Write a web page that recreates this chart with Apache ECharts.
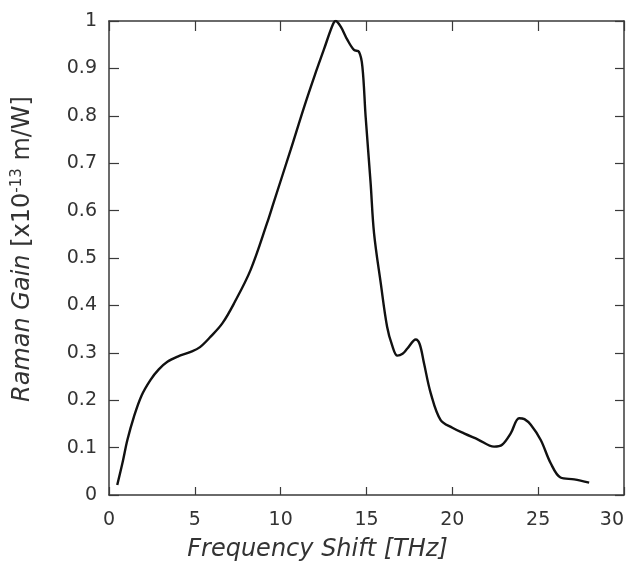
<!DOCTYPE html>
<html>
<head>
<meta charset="utf-8">
<script src="https://cdn.jsdelivr.net/npm/echarts@6/dist/echarts.min.js"></script>
<style>
  html, body { margin: 0; padding: 0; background: #fff; }
  #chart { width: 626px; height: 565px; }
</style>
</head>
<body>
<div id="chart"></div>
<script>
// frequency shift (THz) and Raman gain (x1e-13 m/W)
const shift = [0.48, 0.8, 1.07, 1.45, 1.9, 2.42, 2.9, 3.4, 4.0, 4.76, 5.3, 5.92, 6.6, 7.28,
  8.25, 9.22, 9.6, 10.58, 11.36, 12.0, 12.52, 13.01, 13.2, 13.5, 13.89, 14.27, 14.56, 14.76,
  14.95, 15.24, 15.44, 15.83, 16.2, 16.5, 16.8, 17.1, 17.38, 17.87, 18.1, 18.35, 18.74, 19.32,
  20.0, 20.68, 21.5, 22.43, 22.9, 23.4, 23.89, 24.2, 24.57, 25.15, 25.73, 26.3, 27.1, 27.97];
const gain = [0.021, 0.07, 0.116, 0.165, 0.21, 0.243, 0.265, 0.281, 0.292, 0.302, 0.312, 0.334,
  0.362, 0.404, 0.475, 0.575, 0.618, 0.728, 0.818, 0.887, 0.94, 0.99, 1.0, 0.988, 0.96, 0.939,
  0.935, 0.904, 0.798, 0.658, 0.552, 0.447, 0.355, 0.315, 0.294, 0.298, 0.309, 0.328, 0.318,
  0.278, 0.215, 0.158, 0.142, 0.130, 0.117, 0.102, 0.106, 0.13, 0.162, 0.16, 0.148, 0.116,
  0.067, 0.037, 0.033, 0.026];
const xTicks = [0, 5, 10, 15, 20, 25, 30];
const yTicks = [0, 0.1, 0.2, 0.3, 0.4, 0.5, 0.6, 0.7, 0.8, 0.9, 1];

const font = 'DejaVu Sans';
const axisColor = '#3a3a3a';
const textColor = '#333';

let points = shift.map((x, i) => [x, gain[i]]);

function fmtY(v) {
  let r = Math.round(v * 10) / 10;
  return yTicks.indexOf(r) >= 0 ? String(r) : '';
}

function frameAxis(pos, tickLen) {
  return {
    type: 'value', position: pos,
    axisLine: { show: true, onZero: false, lineStyle: { color: axisColor, width: 1.5 } },
    axisTick: { show: true, inside: true, length: tickLen, lineStyle: { color: axisColor, width: 1.2 } },
    axisLabel: { show: false },
    splitLine: { show: false }
  };
}

let xTop = frameAxis('top', 10);
xTop.min = xTicks[0]; xTop.max = xTicks[xTicks.length - 1]; xTop.interval = 5;
let yRight = frameAxis('right', 9);
yRight.min = 0; yRight.max = 1; yRight.interval = 0.1;

let option = {
  animation: false,
  backgroundColor: '#fff',
  grid: { left: 109, right: 2, top: 21, bottom: 70, outerBoundsMode: 'none' },
  xAxis: [
    {
      type: 'value', position: 'bottom', min: xTicks[0], max: xTicks[xTicks.length - 1], interval: 5,
      name: 'Frequency Shift [THz]', nameLocation: 'middle', nameGap: 43,
      nameTextStyle: { fontFamily: font, fontStyle: 'italic', fontSize: 24, color: textColor, padding: [0, 98, 0, 0] },
      axisLine: { show: true, onZero: false, lineStyle: { color: axisColor, width: 1.5 } },
      axisTick: { show: true, inside: true, length: 8, lineStyle: { color: axisColor, width: 1.2 } },
      axisLabel: { fontFamily: font, fontSize: 19, color: textColor, margin: 16, alignMaxLabel: 'right' },
      splitLine: { show: false }
    },
    xTop
  ],
  yAxis: [
    {
      type: 'value', position: 'left', min: 0, max: 1, interval: 0.1,
      name: '{i|Raman Gain} [x10{s|-13} m/W]', nameLocation: 'middle', nameGap: 74,
      nameTextStyle: {
        fontFamily: font, fontSize: 24, color: textColor, padding: [0, 0, 0, 18],
        rich: {
          i: { fontFamily: font, fontStyle: 'italic', fontSize: 24, color: textColor },
          s: { fontFamily: font, fontSize: 15, color: textColor, verticalAlign: 'top', padding: [0, 0, 10, 0] }
        }
      },
      axisLine: { show: true, onZero: false, lineStyle: { color: axisColor, width: 1.5 } },
      axisTick: { show: true, inside: true, length: 10, lineStyle: { color: axisColor, width: 1.2 } },
      axisLabel: { fontFamily: font, fontSize: 19, color: textColor, margin: 12, formatter: fmtY },
      splitLine: { show: false }
    },
    yRight
  ],
  series: [
    {
      type: 'line',
      data: points,
      smooth: 0.35,
      symbol: 'none',
      lineStyle: { color: '#111', width: 2.4 }
    }
  ]
};

echarts.init(document.getElementById('chart')).setOption(option);
</script>
</body>
</html>
